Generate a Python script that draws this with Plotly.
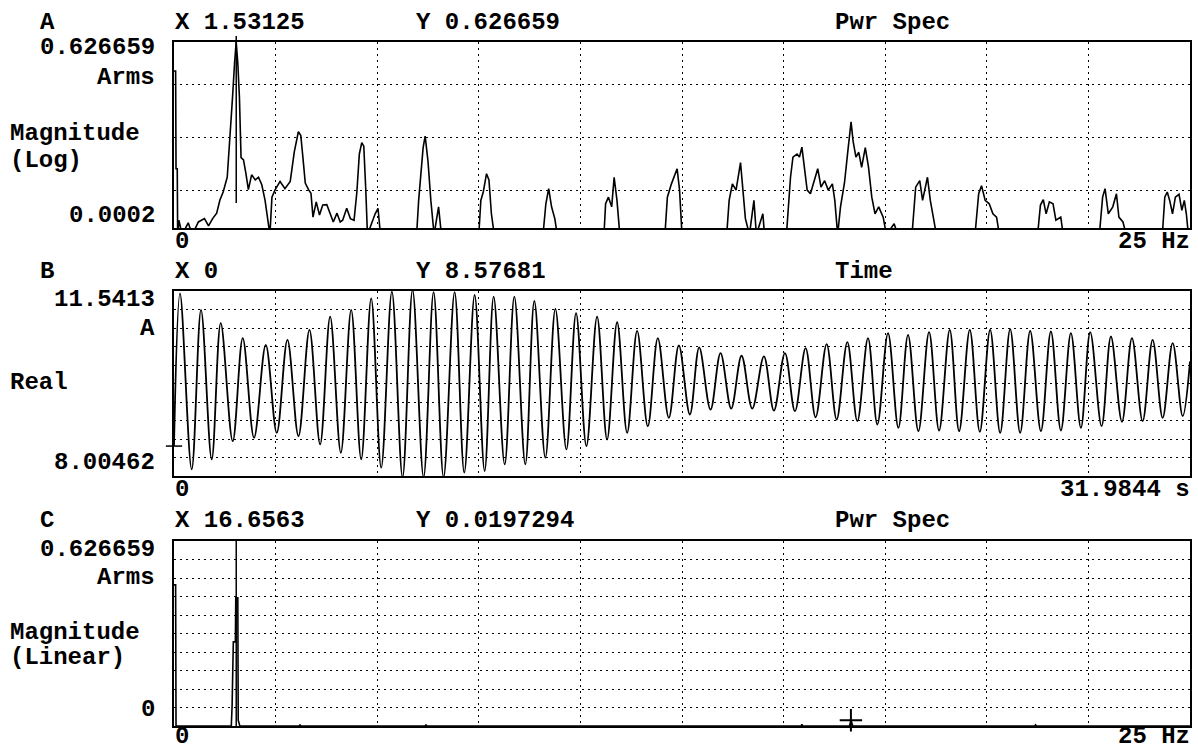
import plotly.graph_objects as go
import math

W, H = 1198, 751

# ---------------- DATA ----------------
# Panel A: power spectrum (log magnitude, Arms) vs frequency (Hz)
freq_a = [0.0, 0.04, 0.05, 0.08, 0.09,
          0.12, 0.2, 0.35, 0.45, 0.6, 0.75, 0.85, 0.95,
          1.05, 1.13, 1.21, 1.31, 1.38, 1.44, 1.49, 1.53, 1.57, 1.61, 1.65, 1.71, 1.77, 1.83, 1.91, 2.0, 2.08, 2.16, 2.24, 2.32, 2.36, 2.41, 2.49, 2.61, 2.73, 2.86, 2.96, 3.06, 3.12, 3.17, 3.23, 3.31, 3.37, 3.42, 3.5, 3.58, 3.66, 3.76, 3.84, 3.92, 4.01, 4.09,
          4.15, 4.25, 4.34, 4.43, 4.5, 4.56, 4.62, 4.67, 4.72, 4.76, 4.95, 5.02, 5.08,
          5.97, 6.02, 6.07, 6.13, 6.18, 6.25, 6.32, 6.4, 6.51, 6.58,
          7.5, 7.55, 7.61, 7.69, 7.75, 7.81, 7.88,
          9.08, 9.15, 9.22, 9.29, 9.37, 9.43,
          10.58, 10.62, 10.69, 10.77, 10.83, 10.9, 10.97,
          12.08, 12.14, 12.24, 12.38, 12.44, 12.5,
          13.6, 13.66, 13.74, 13.83, 13.94, 14.02, 14.06, 14.16, 14.27, 14.33, 14.49, 14.53,
          15.07, 15.17, 15.23, 15.33, 15.39, 15.45, 15.51, 15.58, 15.66, 15.75, 15.84, 15.92, 16.01, 16.1, 16.2, 16.26, 16.33,
          16.4, 16.5, 16.59, 16.66, 16.71, 16.78, 16.85, 16.92, 17.01, 17.09, 17.17, 17.25, 17.34, 17.45, 17.53, 17.72, 17.81,
          18.16, 18.25, 18.35, 18.42, 18.54, 18.61, 18.7, 18.76,
          19.71, 19.8, 19.87, 19.96, 20.06, 20.15, 20.24, 20.31,
          21.25, 21.32, 21.39, 21.46, 21.54, 21.63, 21.7, 21.82, 21.88,
          22.77, 22.85, 22.91, 22.99, 23.1, 23.19, 23.25, 23.35, 23.43,
          24.32, 24.38, 24.44, 24.5, 24.57, 24.64, 24.73, 24.8, 24.86, 24.91, 24.96, 25.0]
mag_a = [0.179, 0.179, 0.0026, 0.0026, 0.00015,
         0.00028, 0.00015, 0.00025, 0.00015, 0.00026, 0.0003, 0.00022, 0.0003,
         0.00038, 0.00067, 0.00095, 0.0018, 0.0102, 0.057, 0.25, 0.63, 0.25, 0.057, 0.0042, 0.0038, 0.0021, 0.00105, 0.002, 0.0016, 0.0018, 0.0013, 0.00067, 0.00026, 0.00015, 0.00076, 0.00105, 0.0015, 0.0011, 0.0015, 0.0054, 0.0129, 0.011, 0.0044, 0.0014, 0.00105, 0.0009, 0.00032, 0.00062, 0.00035, 0.00054, 0.00055, 0.00038, 0.00026, 0.00038, 0.00026,
         0.00028, 0.00047, 0.0003, 0.00028, 0.00095, 0.0049, 0.008, 0.0069, 0.001, 0.00015, 0.00037, 0.00047, 0.00015,
         0.00015, 0.00066, 0.0018, 0.0065, 0.0107, 0.0036, 0.00066, 0.00015, 0.0005, 0.00015,
         0.00015, 0.00066, 0.00095, 0.0021, 0.0016, 0.00037, 0.00015,
         0.00015, 0.00057, 0.0011, 0.0005, 0.0003, 0.00015,
         0.00015, 0.00057, 0.00076, 0.0005, 0.0018, 0.00066, 0.00015,
         0.00015, 0.00076, 0.00135, 0.0026, 0.00103, 0.00015,
         0.00015, 0.00066, 0.00135, 0.00103, 0.0034, 0.00066, 0.0003, 0.00015, 0.00066, 0.00015, 0.00037, 0.00015,
         0.00015, 0.0018, 0.0043, 0.0049, 0.0043, 0.0066, 0.0028, 0.00103, 0.00088, 0.00155, 0.0026, 0.00117, 0.00155, 0.00103, 0.00135, 0.00066, 0.00015,
         0.0005, 0.00145, 0.0065, 0.0197, 0.0086, 0.0043, 0.0053, 0.00276, 0.0065, 0.00276, 0.00076, 0.00037, 0.0005, 0.00032, 0.00015, 0.00024, 0.00015,
         0.00015, 0.00117, 0.00155, 0.00066, 0.0018, 0.00066, 0.00028, 0.00015,
         0.00015, 0.00088, 0.00125, 0.00066, 0.00057, 0.00037, 0.00032, 0.00015,
         0.00015, 0.00054, 0.00068, 0.00037, 0.00062, 0.00057, 0.00028, 0.00032, 0.00015,
         0.00015, 0.00076, 0.0011, 0.00037, 0.0005, 0.00088, 0.00032, 0.00026, 0.00015,
         0.00015, 0.00076, 0.00095, 0.00066, 0.00037, 0.00076, 0.00086, 0.00043, 0.00066, 0.00037, 0.00015, 0.00015]

# Panel B: time signal (A) vs time (s) - successive peaks and troughs
time_b = [0, 0.19, 0.557, 0.851, 1.187, 1.471, 1.849, 2.164, 2.52, 2.889,
          3.235, 3.571, 3.918, 4.264, 4.60, 4.916, 5.252, 5.578, 5.893, 6.208,
          6.523, 6.859, 7.195, 7.51, 7.857, 8.172, 8.487, 8.834, 9.138, 9.464,
          9.779, 10.063, 10.41, 10.714, 11.06, 11.344, 11.69, 12.006, 12.353, 12.657,
          12.983, 13.319, 13.634, 13.95, 14.265, 14.58, 14.916, 15.231, 15.578, 15.893,
          16.24, 16.534, 16.89, 17.205, 17.541, 17.867, 18.204, 18.571, 18.886, 19.233,
          19.548, 19.884, 20.199, 20.546, 20.861, 21.197, 21.512, 21.848, 22.142, 22.478,
          22.804, 23.108, 23.434, 23.77, 24.085, 24.421, 24.716, 25.052, 25.367, 25.693,
          26.008, 26.323, 26.638, 26.953, 27.29, 27.605, 27.92, 28.235, 28.55, 28.844,
          29.201, 29.495, 29.842, 30.157, 30.493, 30.808, 31.124, 31.439, 31.754, 31.9844]
amp_b = [8.577, 11.497, 8.132, 11.179, 8.322, 10.926, 8.671, 10.64, 8.735, 10.513,
         8.83, 10.608, 8.767, 10.798, 8.608, 11.052, 8.449, 11.179, 8.322, 11.402,
         8.163, 11.529, 7.98, 11.56, 7.98, 11.52, 7.98, 11.52, 8.068, 11.465,
         8.1, 11.433, 8.227, 11.433, 8.227, 11.35, 8.354, 11.198, 8.512, 11.116,
         8.576, 11.052, 8.703, 10.944, 8.83, 10.779, 8.957, 10.64, 9.116, 10.50,
         9.18, 10.462, 9.274, 10.354, 9.294, 10.303, 9.294, 10.291, 9.255, 10.354,
         9.243, 10.449, 9.128, 10.525, 9.084, 10.564, 9.052, 10.64, 8.989, 10.735,
         8.925, 10.703, 8.862, 10.754, 8.874, 10.798, 8.862, 10.798, 8.849, 10.798,
         8.83, 10.811, 8.83, 10.779, 8.862, 10.767, 8.874, 10.735, 8.925, 10.754,
         8.957, 10.671, 9.04, 10.64, 9.052, 10.608, 9.116, 10.544, 9.148, 10.195]

# Panel C: power spectrum (linear magnitude, Arms) vs frequency (Hz)
freq_c = [0.0, 0.04, 0.05, 1.41, 1.43, 1.46, 1.51, 1.52, 1.57, 1.58, 1.62,
          3.08, 3.1, 3.12, 6.18, 6.2, 6.22, 15.43, 15.45, 15.47,
          16.62, 16.66, 16.7, 21.18, 21.2, 21.22, 25.0]
mag_c = [0.478, 0.478, 0.0, 0.0, 0.07, 0.285, 0.285, 0.434, 0.434, 0.02, 0.0,
         0.0, 0.005, 0.0, 0.0, 0.005, 0.0, 0.0, 0.006, 0.0,
         0.0, 0.0197, 0.0, 0.0, 0.004, 0.0, 0.0]

# Axis limits / cursor readouts
a_top, a_bottom = 0.626659, 0.0002
b_top, b_bottom, b_tend = 11.5413, 8.00462, 31.9844
c_top = 0.626659
cursor_a = (1.53125, 0.626659)
cursor_b = (0, 8.57681)
cursor_c = (16.6563, 0.0197294)

# ---------------- FIGURE ----------------
def px(x):
    return x / W

def py(y):
    return 1 - y / H

XD = [px(174), px(1190)]
DOM_A = [py(228), py(42)]
DOM_B = [py(476), py(291)]
DOM_C = [py(726), py(541)]

FONT = dict(family="Liberation Mono, DejaVu Sans Mono, monospace", size=24, color="black")
GRID = dict(showgrid=True, gridcolor="black", gridwidth=1, griddash="2px,4px",
            showline=True, mirror=True, linecolor="black", linewidth=2,
            ticks="", showticklabels=False, zeroline=False, fixedrange=True)

fig = go.Figure()
line = dict(color="black", width=1.6)
fig.add_trace(go.Scatter(x=freq_a, y=mag_a, mode="lines", line=line, xaxis="x", yaxis="y"))
fig.add_trace(go.Scatter(x=time_b, y=amp_b, mode="lines", line=dict(color="black", width=1.8, shape="spline", smoothing=1.0),
                         xaxis="x2", yaxis="y2"))
fig.add_trace(go.Scatter(x=freq_c, y=mag_c, mode="lines", line=line, xaxis="x3", yaxis="y3"))
fig.add_trace(go.Scatter(x=[cursor_c[0]], y=[cursor_c[1]], mode="markers", cliponaxis=False,
                         marker=dict(symbol="cross-thin", size=16, line=dict(color="black", width=2)),
                         xaxis="x3", yaxis="y3"))

fig.update_layout(
    width=W, height=H, margin=dict(l=0, r=0, t=0, b=0),
    paper_bgcolor="white", plot_bgcolor="white", showlegend=False,
    xaxis=dict(domain=XD, range=[0, 25], dtick=2.5, tick0=0, anchor="y", **GRID),
    yaxis=dict(domain=DOM_A, type="log", range=[math.log10(a_bottom), math.log10(a_top)], dtick=1, anchor="x", **GRID),
    xaxis2=dict(domain=XD, range=[0, b_tend], dtick=b_tend / 10, tick0=0, anchor="y2", **GRID),
    yaxis2=dict(domain=DOM_B, range=[b_bottom, b_top], dtick=(b_top - b_bottom) / 10, tick0=b_bottom, anchor="x2", **GRID),
    xaxis3=dict(domain=XD, range=[0, 25], dtick=2.5, tick0=0, anchor="y3", **GRID),
    yaxis3=dict(domain=DOM_C, range=[0, c_top], dtick=c_top / 10, tick0=0, anchor="x3", **GRID),
)

# cursors / markers
fig.add_shape(type="line", xref="x", yref="y domain", x0=cursor_a[0], x1=cursor_a[0], y0=0.134, y1=1.032,
              line=dict(color="black", width=1.5))
fig.add_shape(type="line", xref="x3", yref="y3 domain", x0=cursor_a[0], x1=cursor_a[0], y0=0, y1=1,
              line=dict(color="black", width=1.5))
fig.add_shape(type="line", xref="x2 domain", yref="y2", x0=-0.008, x1=0.008, y0=cursor_b[1], y1=cursor_b[1],
              line=dict(color="black", width=1.5))

def label(text, x, y, anchor="left"):
    fig.add_annotation(text=text, x=px(x), y=py(y), xref="paper", yref="paper",
                       xanchor=anchor, yanchor="middle", showarrow=False, font=FONT)

def B(t):
    return "<b>" + t + "</b>"

# Panel A texts
label(B("A"), 38, 22)
label(B("X %g" % cursor_a[0]), 173, 22)
label(B("Y %g" % cursor_a[1]), 414, 22)
label(B("Pwr Spec"), 833, 22)
label(B("0.626659"), 157, 48, "right")
label(B("Arms"), 157, 77, "right")
label(B("Magnitude"), 8, 133)
label(B("(Log)"), 8, 161)
label(B("0.0002"), 157, 216, "right")
label(B("0"), 173, 241)
label(B("25 Hz"), 1192, 241, "right")

# Panel B texts
label(B("B"), 38, 271)
label(B("X 0"), 173, 271)
label(B("Y 8.57681"), 414, 271)
label(B("Time"), 833, 271)
label(B("11.5413"), 157, 299, "right")
label(B("A"), 157, 328, "right")
label(B("Real"), 8, 382)
label(B("8.00462"), 157, 462, "right")
label(B("0"), 173, 489)
label(B("31.9844 s"), 1192, 489, "right")

# Panel C texts
label(B("C"), 38, 520)
label(B("X 16.6563"), 173, 520)
label(B("Y 0.0197294"), 414, 520)
label(B("Pwr Spec"), 833, 520)
label(B("0.626659"), 157, 549, "right")
label(B("Arms"), 157, 577, "right")
label(B("Magnitude"), 8, 632)
label(B("(Linear)"), 8, 657)
label(B("0"), 157, 709, "right")
label(B("0"), 173, 736)
label(B("25 Hz"), 1192, 736, "right")

fig.write_html("out.html")
